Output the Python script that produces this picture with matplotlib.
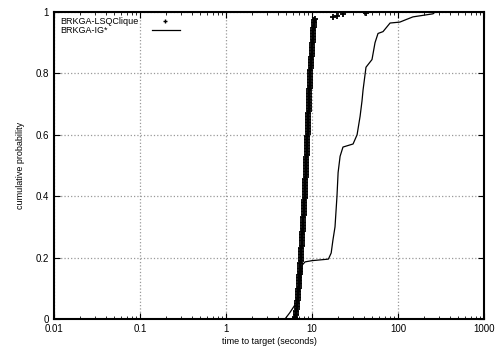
import numpy as np
import matplotlib.pyplot as plt
from matplotlib.lines import Line2D
from matplotlib.ticker import FuncFormatter, LogLocator, MultipleLocator

plt.rcParams['font.family'] = ['Liberation Sans', 'DejaVu Sans']

# BRKGA-LSQClique run times (seconds), 200 runs
lsq_times = [6.30, 6.38, 6.45, 6.50, 6.54, 6.58, 6.61, 6.64, 6.67, 6.70,
             6.73, 6.75, 6.78, 6.80, 6.83, 6.85, 6.88, 6.90, 6.93, 6.95,
             6.97, 6.99, 7.02, 7.04, 7.06, 7.08, 7.10, 7.13, 7.15, 7.17,
             7.19, 7.21, 7.24, 7.26, 7.28, 7.30, 7.32, 7.35, 7.37, 7.40,
             7.42, 7.44, 7.46, 7.48, 7.50, 7.52, 7.54, 7.56, 7.58, 7.60,
             7.62, 7.64, 7.66, 7.68, 7.70, 7.72, 7.74, 7.76, 7.78, 7.80,
             7.82, 7.84, 7.86, 7.88, 7.90, 7.92, 7.94, 7.96, 7.98, 8.00,
             8.02, 8.04, 8.06, 8.08, 8.10, 8.12, 8.14, 8.16, 8.18, 8.20,
             8.22, 8.23, 8.25, 8.27, 8.28, 8.30, 8.31, 8.33, 8.35, 8.36,
             8.38, 8.39, 8.41, 8.43, 8.44, 8.46, 8.47, 8.49, 8.51, 8.52,
             8.54, 8.55, 8.57, 8.59, 8.60, 8.62, 8.63, 8.65, 8.67, 8.68,
             8.70, 8.71, 8.73, 8.75, 8.76, 8.78, 8.79, 8.81, 8.83, 8.85,
             8.87, 8.88, 8.90, 8.92, 8.93, 8.95, 8.96, 8.98, 9.00, 9.01,
             9.03, 9.04, 9.06, 9.08, 9.09, 9.11, 9.12, 9.14, 9.16, 9.17,
             9.19, 9.20, 9.22, 9.24, 9.25, 9.27, 9.28, 9.30, 9.32, 9.33,
             9.35, 9.36, 9.38, 9.40, 9.41, 9.43, 9.44, 9.46, 9.48, 9.50,
             9.53, 9.56, 9.59, 9.62, 9.65, 9.68, 9.71, 9.74, 9.77, 9.80,
             9.83, 9.86, 9.89, 9.92, 9.95, 9.98, 10.01, 10.04, 10.07, 10.10,
             10.13, 10.16, 10.19, 10.22, 10.25, 10.28, 10.31, 10.34, 10.37, 10.40,
             10.44, 10.48, 10.52, 10.57, 10.62, 10.70, 17.5, 19.5, 22.9, 42.4]

# BRKGA-IG* empirical curve (time, probability)
ig_time = [4.85, 5.5, 6.3, 6.6, 7.0, 7.4, 7.65, 8.3, 10.0, 15.5, 16.7, 17.5,
           18.5, 19.5, 20.1, 21.2, 22.9, 30.0, 33.4, 36.2, 38.1, 39.2, 42.4,
           49.8, 54.0, 58.5, 66.9, 80.8, 105, 121, 149, 255, 270]
ig_prob = [0.0, 0.02, 0.045, 0.04, 0.085, 0.14, 0.175, 0.186, 0.19, 0.195,
           0.215, 0.257, 0.3, 0.4, 0.477, 0.53, 0.56, 0.57, 0.6, 0.66, 0.71,
           0.746, 0.82, 0.845, 0.9, 0.93, 0.936, 0.964, 0.967, 0.974, 0.984,
           0.994, 1.0]

labels = ['BRKGA-LSQClique', 'BRKGA-IG*']

lsq = np.sort(np.array(lsq_times))
n = len(lsq)
lsq_prob = (np.arange(1, n + 1) - 0.5) / n

fig = plt.figure(figsize=(4.98, 3.52), dpi=100)
ax = fig.add_axes([0.1084, 0.0938, 0.8636, 0.8722])

ax.plot(lsq, lsq_prob, linestyle='none', marker='+', color='black',
        markersize=4.5, markeredgewidth=1.3)
ax.plot(ig_time, ig_prob, color='black', linewidth=0.9)

ax.set_xscale('log')
ax.set_xlim(0.01, 1000)
ax.set_ylim(0, 1)
ax.xaxis.set_major_locator(LogLocator(base=10, numticks=10))
ax.xaxis.set_minor_locator(LogLocator(base=10, subs=np.arange(2, 10), numticks=20))
ax.xaxis.set_major_formatter(FuncFormatter(lambda v, p: '%g' % v))
ax.yaxis.set_major_locator(MultipleLocator(0.2))
ax.yaxis.set_major_formatter(FuncFormatter(lambda v, p: '%g' % v))

ax.grid(True, which='major', color='#999999', linestyle=':', linewidth=0.9)
ax.tick_params(which='both', direction='in', top=True, right=True,
               labelsize=7, color='black')
ax.tick_params(which='major', length=4)
ax.tick_params(which='minor', length=2)
for s in ax.spines.values():
    s.set_linewidth(1.5)

ax.set_xlabel('time to target (seconds)', fontsize=6.5, labelpad=2)
ax.set_ylabel('cumulative probability', fontsize=6.5, labelpad=8)

# gnuplot style key: text left-aligned, sample on the right
ax.text(0.014, 0.970, labels[0], transform=ax.transAxes, fontsize=6.5,
        va='center', ha='left')
ax.text(0.014, 0.940, labels[1], transform=ax.transAxes, fontsize=6.5,
        va='center', ha='left')
ax.add_line(Line2D([0.259], [0.970], transform=ax.transAxes, marker='+',
                   color='black', markersize=3, markeredgewidth=1.0))
ax.add_line(Line2D([0.228, 0.293], [0.940, 0.940], transform=ax.transAxes,
                   color='black', linewidth=0.9))

fig.savefig('out.png', dpi=100)
